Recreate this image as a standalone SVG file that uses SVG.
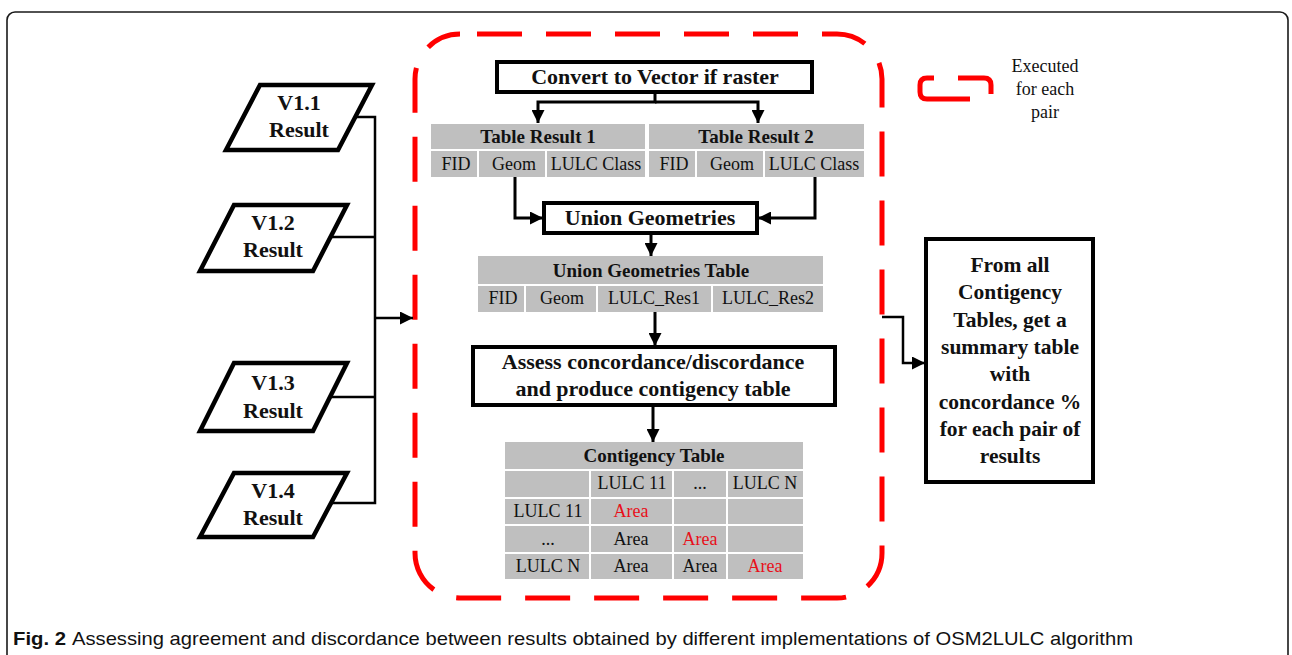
<svg xmlns="http://www.w3.org/2000/svg" width="1292" height="655" viewBox="0 0 1292 655">
  <defs>
    <marker id="arrow" viewBox="0 0 10 10" refX="10" refY="5" markerWidth="13" markerHeight="13" markerUnits="userSpaceOnUse" orient="auto">
      <path d="M0,0 L10,5 L0,10 z" fill="#000"/>
    </marker>
    <style>
      .frame { fill: none; stroke: #1a1a1a; stroke-width: 1.6; }
      .scope { fill: none; stroke: #ff0000; stroke-width: 5; stroke-dasharray: 45 24; stroke-dashoffset: 52; }
      .legend { fill: none; stroke: #ff0000; stroke-width: 5; }
      .para { fill: #fff; stroke: #000; stroke-width: 4.5; stroke-linejoin: miter; }
      .box { fill: #fff; stroke: #000; stroke-width: 4; }
      .cell { fill: #bfbfbf; }
      .wire { fill: none; stroke: #000; stroke-width: 2.5; }
      .flow { fill: none; stroke: #000; stroke-width: 3; }
      .b { font-family: "Liberation Serif", serif; font-weight: bold; fill: #111; text-anchor: middle; }
      .r { font-family: "Liberation Serif", serif; fill: #111; text-anchor: middle; }
      .red { fill: #e8101a; }
      .cap { font-family: "Liberation Sans", sans-serif; font-size: 19px; fill: #111; }
    </style>
  </defs>

  <!-- outer panel frame -->
  <rect class="frame" x="7" y="12" width="1281" height="700" rx="8"/>

  <!-- dashed per-pair scope -->
  <path class="scope" d="M460,34 H837 A45,45 0 0 1 882,79 V553 A45,45 0 0 1 837,598 H460 A45,45 0 0 1 415,553 V79 A45,45 0 0 1 460,34 Z"/>

  <!-- legend -->
  <g id="legend">
    <path class="legend" d="M934,78 H927 Q920,78 920,85 V92 Q920,99 927,99 H970"/>
    <path class="legend" d="M958,78 H984 Q991,78 991,85 V94"/>
    <text class="r" font-size="18" x="1045" y="72">Executed</text>
    <text class="r" font-size="18" x="1045" y="95">for each</text>
    <text class="r" font-size="18" x="1045" y="118">pair</text>
  </g>

  <!-- input results -->
  <g id="v11">
    <polygon class="para" points="260,85 372,85 338,150 226,150"/>
    <text class="b" font-size="22" x="299" y="110">V1.1</text>
    <text class="b" font-size="22" x="299" y="137">Result</text>
  </g>
  <g id="v12">
    <polygon class="para" points="234,205 347,205 313,271 200,271"/>
    <text class="b" font-size="22" x="273" y="230">V1.2</text>
    <text class="b" font-size="22" x="273" y="257">Result</text>
  </g>
  <g id="v13">
    <polygon class="para" points="234,363 347,363 313,431 200,431"/>
    <text class="b" font-size="22" x="273" y="390">V1.3</text>
    <text class="b" font-size="22" x="273" y="418">Result</text>
  </g>
  <g id="v14">
    <polygon class="para" points="234,473 347,473 313,537 200,537"/>
    <text class="b" font-size="22" x="273" y="498">V1.4</text>
    <text class="b" font-size="22" x="273" y="525">Result</text>
  </g>

  <!-- processing steps -->
  <g id="convert">
    <rect class="box" x="497" y="62" width="315" height="30"/>
    <text class="b" font-size="22" x="655" y="84">Convert to Vector if raster</text>
  </g>

  <g id="table1">
    <rect class="cell" x="431" y="124" width="214" height="25"/>
    <rect class="cell" x="431" y="151" width="46" height="26"/>
    <rect class="cell" x="479" y="151" width="66" height="26"/>
    <rect class="cell" x="547" y="151" width="98" height="26"/>
    <text class="b" font-size="19" x="538" y="143">Table Result 1</text>
    <text class="r" font-size="18" x="456" y="170">FID</text>
    <text class="r" font-size="18" x="514" y="170">Geom</text>
    <text class="r" font-size="18" x="596" y="170">LULC Class</text>
  </g>

  <g id="table2">
    <rect class="cell" x="649" y="124" width="215" height="25"/>
    <rect class="cell" x="649" y="151" width="46" height="26"/>
    <rect class="cell" x="697" y="151" width="66" height="26"/>
    <rect class="cell" x="765" y="151" width="99" height="26"/>
    <text class="b" font-size="19" x="756" y="143">Table Result 2</text>
    <text class="r" font-size="18" x="674" y="170">FID</text>
    <text class="r" font-size="18" x="732" y="170">Geom</text>
    <text class="r" font-size="18" x="814" y="170">LULC Class</text>
  </g>

  <g id="union">
    <rect class="box" x="544" y="203" width="213" height="30"/>
    <text class="b" font-size="22" x="650" y="225">Union Geometries</text>
  </g>

  <g id="union-table">
    <rect class="cell" x="478" y="256" width="345" height="28"/>
    <rect class="cell" x="478" y="286" width="46" height="26"/>
    <rect class="cell" x="526" y="286" width="70" height="26"/>
    <rect class="cell" x="598" y="286" width="113" height="26"/>
    <rect class="cell" x="713" y="286" width="110" height="26"/>
    <text class="b" font-size="19" x="651" y="277">Union Geometries Table</text>
    <text class="r" font-size="18" x="503" y="304">FID</text>
    <text class="r" font-size="18" x="562" y="304">Geom</text>
    <text class="r" font-size="18" x="654" y="304">LULC_Res1</text>
    <text class="r" font-size="18" x="768" y="304">LULC_Res2</text>
  </g>

  <g id="assess">
    <rect class="box" x="473" y="347" width="362" height="58"/>
    <text class="b" font-size="22" x="653" y="369">Assess concordance/discordance</text>
    <text class="b" font-size="22" x="653" y="396">and produce contigency table</text>
  </g>

  <g id="contingency">
    <rect class="cell" x="505" y="442" width="298" height="27"/>
    <rect class="cell" x="505" y="471" width="84" height="26"/>
    <rect class="cell" x="591" y="471" width="81" height="26"/>
    <rect class="cell" x="674" y="471" width="52" height="26"/>
    <rect class="cell" x="728" y="471" width="75" height="26"/>
    <rect class="cell" x="505" y="499" width="84" height="25"/>
    <rect class="cell" x="591" y="499" width="81" height="25"/>
    <rect class="cell" x="674" y="499" width="52" height="25"/>
    <rect class="cell" x="728" y="499" width="75" height="25"/>
    <rect class="cell" x="505" y="526" width="84" height="26"/>
    <rect class="cell" x="591" y="526" width="81" height="26"/>
    <rect class="cell" x="674" y="526" width="52" height="26"/>
    <rect class="cell" x="728" y="526" width="75" height="26"/>
    <rect class="cell" x="505" y="554" width="84" height="25"/>
    <rect class="cell" x="591" y="554" width="81" height="25"/>
    <rect class="cell" x="674" y="554" width="52" height="25"/>
    <rect class="cell" x="728" y="554" width="75" height="25"/>
    <text class="b" font-size="19" x="654" y="462">Contigency Table</text>
    <text class="r" font-size="18" x="632" y="489">LULC 11</text>
    <text class="r" font-size="18" x="700" y="489">...</text>
    <text class="r" font-size="18" x="765" y="489">LULC N</text>
    <text class="r" font-size="18" x="548" y="517">LULC 11</text>
    <text class="r red" font-size="18" x="631" y="517">Area</text>
    <text class="r" font-size="18" x="548" y="545">...</text>
    <text class="r" font-size="18" x="631" y="545">Area</text>
    <text class="r red" font-size="18" x="700" y="545">Area</text>
    <text class="r" font-size="18" x="548" y="572">LULC N</text>
    <text class="r" font-size="18" x="631" y="572">Area</text>
    <text class="r" font-size="18" x="700" y="572">Area</text>
    <text class="r red" font-size="18" x="765" y="572">Area</text>
  </g>

  <g id="summary">
    <rect class="box" x="926" y="239" width="167" height="243"/>
    <text class="b" font-size="21.5" x="1010" y="272">From all</text>
    <text class="b" font-size="21.5" x="1010" y="299">Contigency</text>
    <text class="b" font-size="21.5" x="1010" y="327">Tables, get a</text>
    <text class="b" font-size="21.5" x="1010" y="354">summary table</text>
    <text class="b" font-size="21.5" x="1010" y="381">with</text>
    <text class="b" font-size="21.5" x="1010" y="409">concordance %</text>
    <text class="b" font-size="21.5" x="1010" y="436">for each pair of</text>
    <text class="b" font-size="21.5" x="1010" y="463">results</text>
  </g>

  <!-- connectors -->
  <g id="connectors">
    <path class="wire" d="M355,117 H375 V503 H330"/>
    <path class="wire" d="M330,237 H375"/>
    <path class="wire" d="M330,397 H375"/>
    <path class="wire" d="M375,318 H413" marker-end="url(#arrow)"/>
    <path class="flow" d="M655,92 V102 H538 V123" marker-end="url(#arrow)"/>
    <path class="flow" d="M655,102 H758 V123" marker-end="url(#arrow)"/>
    <path class="flow" d="M515,177 V218 H543" marker-end="url(#arrow)"/>
    <path class="flow" d="M815,177 V218 H758" marker-end="url(#arrow)"/>
    <path class="flow" d="M651,233 V256" marker-end="url(#arrow)"/>
    <path class="flow" d="M655,312 V346" marker-end="url(#arrow)"/>
    <path class="flow" d="M653,405 V442" marker-end="url(#arrow)"/>
    <path class="wire" d="M882,317 H903 V363 H925" marker-end="url(#arrow)"/>
  </g>

  <!-- caption -->
  <text class="cap" x="13" y="645" font-weight="bold" textLength="53" lengthAdjust="spacingAndGlyphs">Fig. 2</text>
  <text class="cap" x="72" y="645" textLength="1061" lengthAdjust="spacingAndGlyphs">Assessing agreement and discordance between results obtained by different implementations of OSM2LULC algorithm</text>
</svg>
